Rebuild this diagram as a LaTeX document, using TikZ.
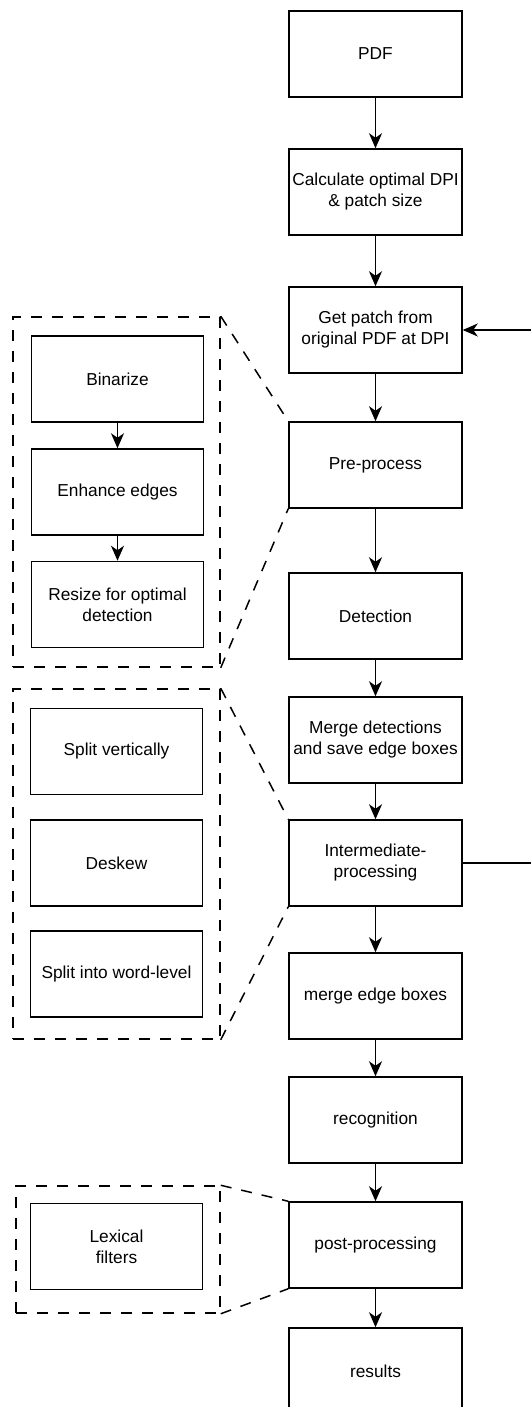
\documentclass[tikz,border=0pt]{standalone}
\usepackage{fontspec}
\setmainfont{Liberation Sans}
\usetikzlibrary{arrows.meta}
\begin{document}
\begin{tikzpicture}[x=1pt,y=-1pt,
  box/.style={draw, line width=1.5pt, rectangle, minimum width=173pt, minimum height=86pt, inner sep=0pt, align=center, font=\fontsize{17.3}{21}\selectfont},
  sbox/.style={box, minimum width=172pt},
  grp/.style={draw, line width=1.5pt, dash pattern=on 11pt off 10pt, rectangle, inner sep=0pt},
  zoomline/.style={line width=1.5pt, dash pattern=on 11pt off 10pt},
  arr/.style={line width=1.5pt, -{Stealth[length=15pt, width=13pt, inset=4.5pt]}}]
\useasboundingbox (0,0) rectangle (530,1407);
% main column
\node[box] (pdf) at (375.5,54) {PDF};
\node[box] (calc) at (375.5,192) {Calculate optimal DPI\\\& patch size};
\node[box] (get) at (375.5,330) {Get patch from\\original PDF at DPI};
\node[box] (pre) at (375.5,465) {Pre-process};
\node[box] (det) at (375.5,616) {Detection};
\node[box] (mrg) at (375.5,740) {Merge detections\\and save edge boxes};
\node[box] (inter) at (375.5,863) {Intermediate-\\processing};
\node[box] (meb) at (375.5,996) {merge edge boxes};
\node[box] (rec) at (375.5,1120) {recognition};
\node[box] (post) at (375.5,1245) {post-processing};
\node[box] (res) at (375.5,1371) {results};
% groups
\node[grp, minimum width=207pt, minimum height=350pt] (g1) at (116.5,492) {};
\node[grp, minimum width=207pt, minimum height=350pt] (g2) at (116.5,864) {};
\node[grp, minimum width=204pt, minimum height=127pt] (g3) at (118,1249.5) {};
\node[sbox] (bin) at (117.5,379) {Binarize};
\node[sbox] (enh) at (117.5,492) {Enhance edges};
\node[sbox] (rsz) at (117.5,604.5) {Resize for optimal\\detection};
\node[sbox] (spv) at (116.5,751.5) {Split vertically};
\node[sbox] (dsk) at (116.5,863) {Deskew};
\node[sbox] (spw) at (116.5,974) {Split into word-level};
\node[sbox] (lex) at (116.5,1246.5) {Lexical\\filters};
% main arrows
\draw[arr] (pdf) -- (calc);
\draw[arr] (calc) -- (get);
\draw[arr] (get) -- (pre);
\draw[arr] (pre) -- (det);
\draw[arr] (det) -- (mrg);
\draw[arr] (mrg) -- (inter);
\draw[arr] (inter) -- (meb);
\draw[arr] (meb) -- (rec);
\draw[arr] (rec) -- (post);
\draw[arr] (post) -- (res);
\draw[arr] (bin) -- (enh);
\draw[arr] (enh) -- (rsz);
% feedback loop
\coordinate (fbA) at (545,863);
\coordinate (fbB) at (545,330);
\draw[arr] (inter.east) -- (fbA) -- (fbB) -- (get.east);
% zoom lines
\draw[zoomline] (g1.north east) -- (pre.north west);
\draw[zoomline] (g1.south east) -- (pre.south west);
\draw[zoomline] (g2.north east) -- (inter.north west);
\draw[zoomline] (g2.south east) -- (inter.south west);
\draw[zoomline] (g3.north east) -- (post.north west);
\draw[zoomline] (g3.south east) -- (post.south west);
\end{tikzpicture}
\end{document}
